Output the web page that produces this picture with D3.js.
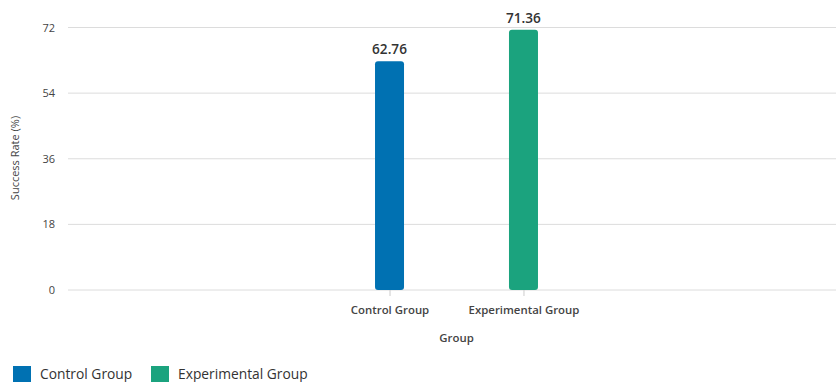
<!DOCTYPE html>
<html><head><meta charset="utf-8">
<script src="https://cdn.jsdelivr.net/npm/d3@7"></script>
<style>body{margin:0;background:#fff;} svg{display:block;font-family:"Open Sans",sans-serif;}</style>
</head><body>
<svg id="c" width="836" height="382"></svg>
<script>
const categories = ["Control Group", "Experimental Group"];
const values = [62.76, 71.36];
const colors = ["#0071B2", "#1BA37E"];
const yTicks = [0, 18, 36, 54, 72];

const svg = d3.select("#c");
const mLeft = 68, mRight = 845, mTop = 27.5, mBottom = 290;
const x = d3.scalePoint().domain(categories).range([mLeft, mRight]).padding(2.4);
const y = d3.scaleLinear().domain([0, 72]).range([mBottom, mTop]);

// gridlines
svg.append("g").selectAll("line").data(yTicks).join("line")
  .attr("x1", mLeft).attr("x2", 836)
  .attr("y1", d => y(d)).attr("y2", d => y(d))
  .attr("stroke", "#dcdcdc").attr("stroke-width", 1);

// y axis labels
const yAxis = svg.append("g").attr("transform", `translate(${mLeft},0)`)
  .call(d3.axisLeft(y).tickValues(yTicks).tickSize(0).tickPadding(13));
yAxis.select(".domain").remove();
yAxis.selectAll("text").attr("font-size", 11).attr("fill", "#444").attr("font-family", "Open Sans");

svg.append("text").attr("transform", "translate(19,158) rotate(-90)")
  .attr("text-anchor", "middle").attr("font-size", 11).attr("fill", "#444")
  .text("Success Rate (%)");

// x axis
const xAxis = svg.append("g").attr("transform", `translate(0,${mBottom})`)
  .call(d3.axisBottom(x).tickSize(6).tickPadding(10));
xAxis.select(".domain").remove();
xAxis.selectAll("line").attr("stroke", "#ccc");
xAxis.selectAll("text").attr("font-size", 11.4).attr("font-weight", 600).attr("fill", "#444").attr("font-family", "Open Sans");

svg.append("text").attr("x", 456.5).attr("y", 342)
  .attr("text-anchor", "middle").attr("font-size", 11.4).attr("font-weight", 600).attr("fill", "#444")
  .text("Group");

// bars
const bw = 29;
svg.append("g").selectAll("rect").data(categories).join("rect")
  .attr("x", d => x(d) - bw / 2).attr("width", bw)
  .attr("y", (d, i) => y(values[i])).attr("height", (d, i) => y(0) - y(values[i]))
  .attr("rx", 3).attr("fill", (d, i) => colors[i]);

svg.append("g").selectAll("text").data(categories).join("text")
  .attr("x", d => x(d)).attr("y", (d, i) => y(values[i]) - 7)
  .attr("text-anchor", "middle").attr("font-size", 13.6).attr("font-weight", 600).attr("fill", "#333")
  .text((d, i) => values[i].toFixed(2));

// legend
const lg = svg.append("g");
const lx = [13, 151];
categories.forEach((c, i) => {
  lg.append("rect").attr("x", lx[i]).attr("y", 366).attr("width", 18).attr("height", 16).attr("fill", colors[i]);
  lg.append("text").attr("x", lx[i] + 27).attr("y", 379).attr("font-size", 13.8).attr("fill", "#333").text(c);
});
</script>
</body></html>
